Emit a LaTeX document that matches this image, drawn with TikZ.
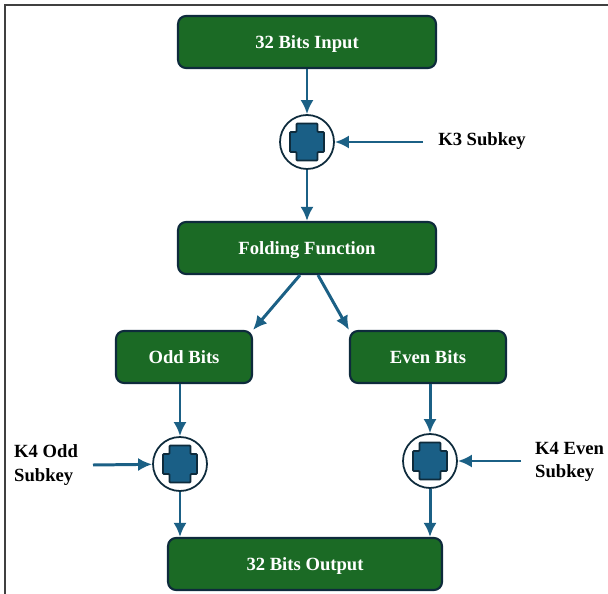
\documentclass[tikz,border=0pt]{standalone}
\usepackage{fontspec}
\setmainfont{Liberation Serif}
\usepackage{xcolor}
\usepackage{tikz}
\usetikzlibrary{arrows.meta}

\definecolor{boxgreen}{HTML}{1B6A25}
\definecolor{navyedge}{HTML}{0E2B3C}
\definecolor{flowblue}{HTML}{1B6085}
\definecolor{crossblue}{HTML}{1A5F86}

\tikzset{
  stage/.style={draw=navyedge, line width=1.2pt, fill=boxgreen, rounded corners=0.16cm,
    text=white, font=\bfseries\fontsize{10.6}{12}\selectfont, minimum height=1.04cm,
    text height=1.6ex, text depth=0pt},
  flow/.style={->, draw=flowblue, line width=1.7pt},
  xorop/.style={circle, draw=navyedge, line width=1pt, fill=white, minimum size=1.08cm, inner sep=0pt,
    path picture={
      \draw[fill=crossblue, draw=navyedge, line width=1pt, rounded corners=0.5pt,
        shift={(path picture bounding box.center)}]
        (-10.5,-18.5) -- (10.5,-18.5) -- (10.5,-10) -- (17,-10) -- (17,10) -- (10.5,10) -- (10.5,18.5)
        -- (-10.5,18.5) -- (-10.5,10) -- (-17,10) -- (-17,-10) -- (-10.5,-10) -- cycle;
    }},
  keytext/.style={font=\bfseries\fontsize{10.6}{13.5}\selectfont, align=left}
}

\begin{document}
\begin{tikzpicture}[>={Latex[length=8pt,width=7.5pt]}, x=0.02cm, y=-0.02cm]
  \useasboundingbox (0,0) rectangle (608,594);
  % frame
  \draw[line width=1pt, black!75] (5,594) -- (5,5) -- (608,5);

  % blocks
  \node[stage, minimum width=5.16cm] (input) at (307,42) {32 Bits Input};
  \node[xorop] (x1) at (307,142) {};
  \node[keytext] (k3) at (482,141) {K3 Subkey};
  \node[stage, minimum width=5.16cm] (fold) at (307,248) {Folding Function};
  \node[stage, minimum width=2.72cm] (odd) at (184,357) {Odd Bits};
  \node[stage, minimum width=3.12cm] (even) at (428,357) {Even Bits};
  \node[xorop] (x2) at (180,464) {};
  \node[xorop] (x3) at (430,461) {};
  \node[keytext, anchor=west] (k4odd) at (8,465) {K4 Odd\\Subkey};
  \node[keytext, anchor=west] (k4even) at (529,462) {K4 Even\\Subkey};
  \node[stage, minimum width=5.48cm] (output) at (305,564) {32 Bits Output};

  \coordinate (k3tail) at (423,142);
  \coordinate (k4oddtail) at (93,465);
  \coordinate (k4eventail) at (521,461);

  % connectors
  \draw[flow] (input) -- (x1);
  \draw[flow] (k3tail) -- (x1);
  \draw[flow] (x1) -- (fold);
  \draw[flow] (fold.south) ++(-7,0) coordinate (foldl) (foldl) -- (odd.north east);
  \draw[flow] (fold.south) ++(11,0) coordinate (foldr) (foldr) -- (even.north west);
  \draw[flow] (odd.south -| x2) -- (x2);
  \draw[flow] (even.south -| x3) -- (x3);
  \draw[flow] (k4oddtail) -- (x2);
  \draw[flow] (k4eventail) -- (x3);
  \draw[flow] (x2) -- (x2 |- output.north);
  \draw[flow] (x3) -- (x3 |- output.north);
\end{tikzpicture}
\end{document}
